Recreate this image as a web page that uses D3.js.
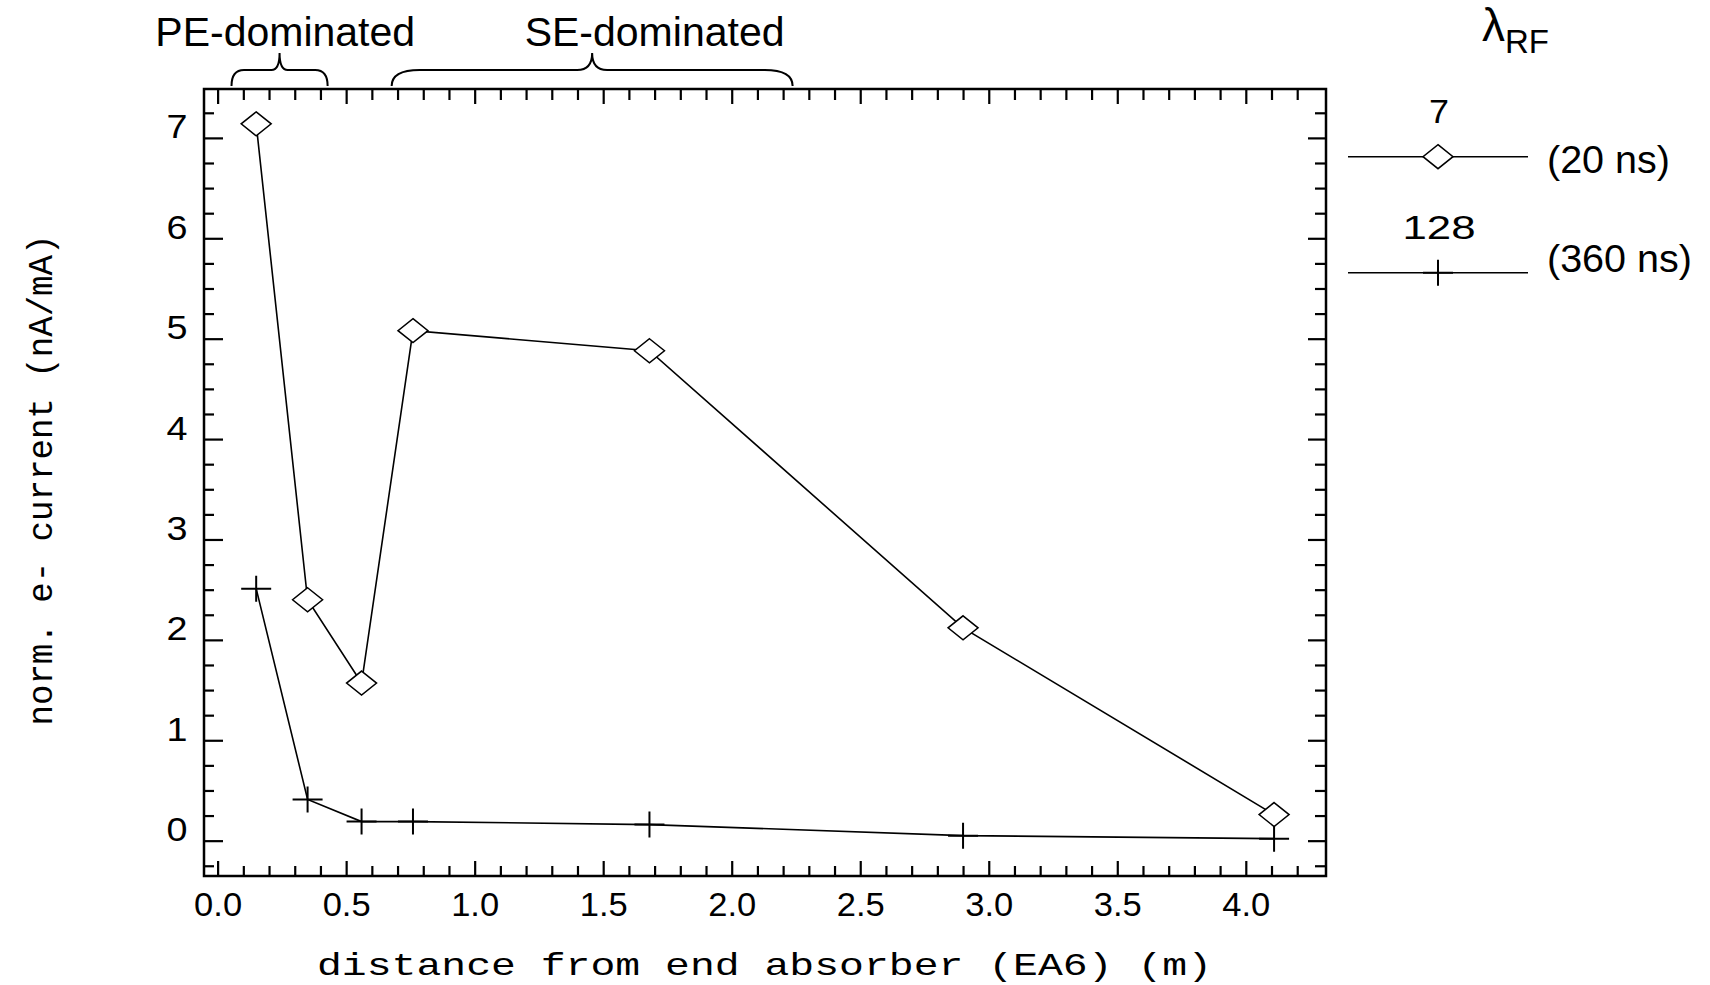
<!DOCTYPE html>
<html>
<head>
<meta charset="utf-8">
<script src="https://cdn.jsdelivr.net/npm/d3@7"></script>
<style>
body { margin: 0; background: #fff; }
svg { display: block; }
.mono { font-family: "Liberation Mono", "DejaVu Sans Mono", monospace; fill: #000; }
.digits { font-family: "Liberation Sans", Arial, sans-serif; fill: #000; }
.note { font-family: "Liberation Sans", Arial, sans-serif; fill: #000; }
</style>
</head>
<body>
<svg id="diag" width="1710" height="985"></svg>
<script>
var svg_w = 1710;
var svg_h = 985;

// distance from end absorber EA6 (m)
var dist = [0.15, 0.35, 0.56, 0.76, 1.68, 2.90, 4.11];
// norm. e- current (nA/mA), lambda_RF = 7 (20 ns)
var cur7 = [7.14, 2.40, 1.57, 5.08, 4.88, 2.12, 0.26];
// norm. e- current (nA/mA), lambda_RF = 128 (360 ns)
var cur128 = [2.51, 0.41, 0.19, 0.19, 0.16, 0.05, 0.02];

var xTicks = [0, 0.5, 1, 1.5, 2, 2.5, 3, 3.5, 4];
var xTickLabels = ['0.0', '0.5', '1.0', '1.5', '2.0', '2.5', '3.0', '3.5', '4.0'];
var yTicks = [0, 1, 2, 3, 4, 5, 6, 7];

var regionNames = ['PE-dominated', 'SE-dominated'];
var regionFrom = [0.054, 0.677];
var regionTo = [0.428, 2.237];
var regionLabelAt = [0.263, 1.70];

var legendNames = ['7', '128'];
var legendTimes = ['(20 ns)', '(360 ns)'];

// plot frame (window.top is reserved, hence the prefixes)
var plotL = 204, plotR = 1326, plotT = 89, plotB = 876;

var svg = d3.select('#diag');

var x = d3.scaleLinear().domain([-0.053, 4.312]).range([plotL, plotR]);
var y = d3.scaleLinear().domain([-0.352, 7.487]).range([plotB, plotT]);

// minor tick values (axis decoration only)
var xMinor = d3.range(0, 43).map(i => i / 10).filter(v => Math.abs(v * 2 - Math.round(v * 2)) > 1e-6);
var yMinor = d3.range(-1, 30).map(i => i / 4).filter(v => Math.abs(v - Math.round(v)) > 1e-6);

function styleAxis(g) {
    g.select('.domain').remove();
    g.selectAll('.tick line').attr('stroke', '#000').attr('stroke-width', 2.2);
    g.attr('font-family', null).attr('font-size', null);
}

// bottom axis with labels
let gx = svg.append('g')
    .attr('transform', 'translate(0,' + plotB + ')')
    .call(d3.axisBottom(x).tickValues(xTicks).tickSize(-15)
        .tickFormat((d, i) => xTickLabels[i]))
    .call(styleAxis);
gx.selectAll('.tick text')
    .attr('class', 'digits')
    .attr('y', 40)
    .attr('dy', 0)
    .attr('font-size', 33)
    .attr('textLength', 48)
    .attr('lengthAdjust', 'spacingAndGlyphs');
svg.append('g')
    .attr('transform', 'translate(0,' + plotB + ')')
    .call(d3.axisBottom(x).tickValues(xMinor).tickSize(-10).tickFormat(''))
    .call(styleAxis);

// top axis
svg.append('g')
    .attr('transform', 'translate(0,' + plotT + ')')
    .call(d3.axisTop(x).tickValues(xTicks).tickSize(-15).tickFormat(''))
    .call(styleAxis);
svg.append('g')
    .attr('transform', 'translate(0,' + plotT + ')')
    .call(d3.axisTop(x).tickValues(xMinor).tickSize(-11).tickFormat(''))
    .call(styleAxis);

// left axis with labels
let gy = svg.append('g')
    .attr('transform', 'translate(' + plotL + ',0)')
    .call(d3.axisLeft(y).tickValues(yTicks).tickSize(-19).tickFormat(d3.format('d')))
    .call(styleAxis);
gy.selectAll('.tick text')
    .attr('class', 'digits')
    .attr('x', -27)
    .attr('dy', 0)
    .attr('text-anchor', 'middle')
    .attr('font-size', 33)
    .attr('textLength', 21)
    .attr('lengthAdjust', 'spacingAndGlyphs');
svg.append('g')
    .attr('transform', 'translate(' + plotL + ',0)')
    .call(d3.axisLeft(y).tickValues(yMinor).tickSize(-10).tickFormat(''))
    .call(styleAxis);

// right axis
svg.append('g')
    .attr('transform', 'translate(' + plotR + ',0)')
    .call(d3.axisRight(y).tickValues(yTicks).tickSize(-18).tickFormat(''))
    .call(styleAxis);
svg.append('g')
    .attr('transform', 'translate(' + plotR + ',0)')
    .call(d3.axisRight(y).tickValues(yMinor).tickSize(-11).tickFormat(''))
    .call(styleAxis);

// frame
svg.append('rect')
    .attr('x', plotL).attr('y', plotT)
    .attr('width', plotR - plotL).attr('height', plotB - plotT)
    .attr('fill', 'none').attr('stroke', '#000').attr('stroke-width', 2.5);

// axis titles
svg.append('text')
    .attr('class', 'mono')
    .attr('x', 317).attr('y', 975)
    .attr('font-size', 32)
    .attr('textLength', 895)
    .attr('lengthAdjust', 'spacingAndGlyphs')
    .text('distance from end absorber (EA6) (m)');
svg.append('text')
    .attr('class', 'mono')
    .attr('transform', 'translate(52,480) rotate(-90)')
    .attr('text-anchor', 'middle')
    .attr('font-size', 35)
    .attr('textLength', 491)
    .attr('lengthAdjust', 'spacingAndGlyphs')
    .text('norm. e- current (nA/mA)');

// series
var diamond = 'M0,-12L15,0L0,12L-15,0Z';
var cross = 'M-15,0H15M0,-13V13';
var series = [
    { vals: cur7, marker: diamond },
    { vals: cur128, marker: cross }
];
let lineGen = d3.line()
    .x((d) => x(d[0]))
    .y((d) => y(d[1]));

series.forEach((s) => {
    let pts = dist.map((d, i) => [d, s.vals[i]]);
    svg.append('path')
        .attr('d', lineGen(pts))
        .attr('fill', 'none')
        .attr('stroke', '#000')
        .attr('stroke-width', 1.6);
    svg.append('g')
        .selectAll('path')
        .data(pts)
        .enter()
        .append('path')
        .attr('transform', (d) => 'translate(' + x(d[0]) + ',' + y(d[1]) + ')')
        .attr('d', s.marker)
        .attr('fill', s.marker == diamond ? '#fff' : 'none')
        .attr('stroke', '#000')
        .attr('stroke-width', s.marker == diamond ? 1.5 : 2);
});

// region braces above the frame
function bracePath(x1, x2) {
    let mid = (x1 + x2) / 2;
    let r = Math.min(28, (x2 - x1) * 0.13);
    let p = Math.min(15, (x2 - x1) * 0.085);
    return 'M' + x1 + ',86' +
        'Q' + x1 + ',70 ' + (x1 + r) + ',70' +
        'L' + (mid - p) + ',70' +
        'Q' + mid + ',70 ' + mid + ',53' +
        'Q' + mid + ',70 ' + (mid + p) + ',70' +
        'L' + (x2 - r) + ',70' +
        'Q' + x2 + ',70 ' + x2 + ',86';
}
regionNames.forEach((name, i) => {
    svg.append('path')
        .attr('d', bracePath(x(regionFrom[i]), x(regionTo[i])))
        .attr('fill', 'none')
        .attr('stroke', '#000')
        .attr('stroke-width', 2);
    svg.append('text')
        .attr('class', 'note')
        .attr('x', x(regionLabelAt[i]))
        .attr('y', 46)
        .attr('text-anchor', 'middle')
        .attr('font-size', 41)
        .text(name);
});

// legend
let lam = svg.append('text')
    .attr('class', 'note')
    .attr('x', 1482).attr('y', 41)
    .attr('font-size', 46);
lam.append('tspan').text('λ');
lam.append('tspan').attr('dy', 12).attr('font-size', 33).text('RF');

var legendY = [156.7, 272.7];
legendNames.forEach((name, i) => {
    let ly = legendY[i];
    svg.append('line')
        .attr('x1', 1348).attr('x2', 1528)
        .attr('y1', ly).attr('y2', ly)
        .attr('stroke', '#000').attr('stroke-width', 1.6);
    svg.append('path')
        .attr('transform', 'translate(1438,' + ly + ')')
        .attr('d', series[i].marker)
        .attr('fill', i == 0 ? '#fff' : 'none')
        .attr('stroke', '#000')
        .attr('stroke-width', i == 0 ? 1.5 : 2);
    svg.append('text')
        .attr('class', 'digits')
        .attr('x', 1439).attr('y', ly - 34)
        .attr('text-anchor', 'middle')
        .attr('font-size', 33)
        .attr('textLength', name.length == 1 ? 20 : 73)
        .attr('lengthAdjust', 'spacingAndGlyphs')
        .text(name);
    svg.append('text')
        .attr('class', 'note')
        .attr('x', 1547).attr('y', i == 0 ? 173 : 272)
        .attr('font-size', 39.5)
        .text(legendTimes[i]);
});
</script>
</body>
</html>
